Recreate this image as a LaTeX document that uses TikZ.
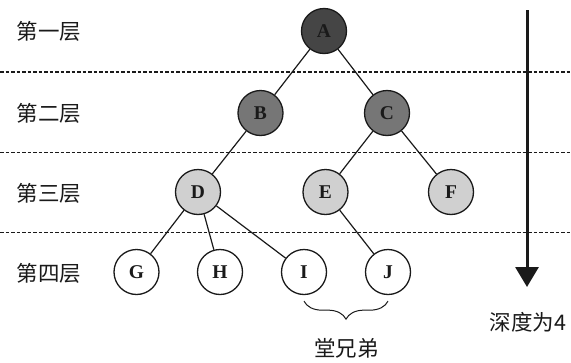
\documentclass[tikz,border=0pt]{standalone}
\usepackage{fontspec}
\setmainfont{Liberation Serif}
\newfontfamily\cjk{Noto Sans CJK SC}
\usetikzlibrary{arrows.meta,decorations.pathreplacing}
\definecolor{cDark}{HTML}{1A1A1A}
\definecolor{cRoot}{HTML}{454545}
\definecolor{cMid}{HTML}{767676}
\definecolor{cLight}{HTML}{D0D0D0}

\begin{document}
\begin{tikzpicture}[
  x=1pt, y=-1pt,
  vtx/.style={circle, draw=cDark, line width=1.3pt, minimum size=45pt, inner sep=0pt,
              font=\fontsize{19.5}{19.5}\selectfont\bfseries, text=cDark},
  lvl1/.style={vtx, fill=cRoot},
  lvl2/.style={vtx, fill=cMid},
  lvl3/.style={vtx, fill=cLight},
  lvl4/.style={vtx, fill=white},
  edge/.style={draw=cDark, line width=1.2pt},
  sep/.style={draw=cDark, line width=1.1pt, dash pattern=on 3.5pt off 2pt},
  lbl/.style={font=\cjk\fontsize{21.5}{21.5}\selectfont, text=cDark},
]
\useasboundingbox[fill=white] (0,0) rectangle (571,362);

% ---- level separators
\draw[sep] (0,72) -- (571,72);
\draw[sep] (0,152.5) -- (571,152.5);
\draw[sep] (0,232.5) -- (571,232.5);

% ---- level titles
\node[lbl] (t1) at (49,31) {第一层};
\node[lbl] (t2) at (49,113) {第二层};
\node[lbl] (t3) at (49,193) {第三层};
\node[lbl] (t4) at (49,273) {第四层};

% ---- tree
\node[lvl1] (A) at (324,31) {A};
\node[lvl2] (B) at (260.5,113) {B};
\node[lvl2] (C) at (387,113) {C};
\node[lvl3] (D) at (198,192) {D};
\node[lvl3] (E) at (325.5,192) {E};
\node[lvl3] (F) at (451,192) {F};
\node[lvl4] (G) at (136.5,272) {G};
\node[lvl4] (H) at (220,272) {H};
\node[lvl4] (I) at (304,272) {I};
\node[lvl4] (J) at (388,272) {J};
\draw[edge] (A) -- (B);
\draw[edge] (A) -- (C);
\draw[edge] (B) -- (D);
\draw[edge] (C) -- (E);
\draw[edge] (C) -- (F);
\draw[edge] (D) -- (G);
\draw[edge] (D) -- (H);
\draw[edge] (D) -- (I);
\draw[edge] (E) -- (J);

% ---- cousins
\draw[edge, line width=1pt, decoration={brace, mirror, amplitude=18pt}, decorate]
  ([yshift=-6pt]I.south) -- ([yshift=-6pt]J.south);
\node[lbl] (cousin) at (346.5,348) {堂兄弟};

% ---- depth arrow
\coordinate (dtop) at (527,10);
\coordinate (dtip) at (527,287);
\draw[draw=cDark, line width=3pt, -{Triangle[length=20pt, width=23pt]}] (dtop) -- (dtip);
\node[lbl] (depth) at (528,322) {深度为4};
\end{tikzpicture}
\end{document}
